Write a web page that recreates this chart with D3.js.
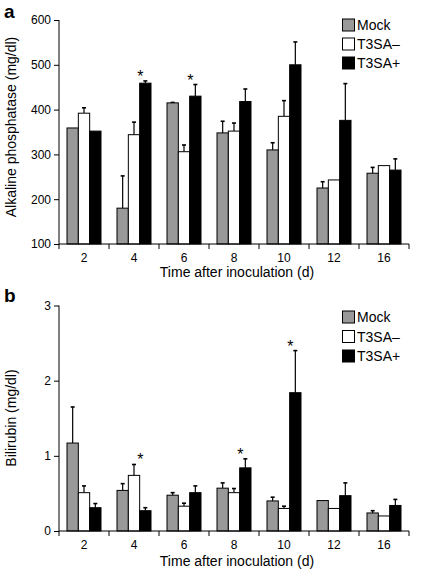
<!DOCTYPE html>
<html><head><meta charset="utf-8">
<script src="https://cdn.jsdelivr.net/npm/d3@7"></script>
<style>body{margin:0;background:#fff}svg{display:block}</style>
</head><body><svg id="c" width="423" height="572"></svg>
<script>
// ---- data ----
const days = ["2","4","6","8","10","12","16"];
const seriesNames = ["Mock","T3SA\u2013","T3SA+"];
const seriesColors = ["#999999","#ffffff","#000000"];

// Panel a: Alkaline phosphatase (mg/dl)
const alpMock     = [359,180,415,348,310,225,258];
const alpMockErr  = [null,252,416,374,326,239,271];
const alpNeg      = [392,344,306,352,385,243,275];
const alpNegErr   = [404,372,321,370,420,null,null];
const alpPos      = [352,459,430,418,500,376,265];
const alpPosErr   = [null,464,456,446,551,458,290];
const alpSig      = ["4","6"];
const alpTicks    = [100,200,300,400,500,600];

// Panel b: Bilirubin (mg/dl)
const bilMock     = [1.17,0.54,0.476,0.57,0.40,0.405,0.24];
const bilMockErr  = [1.65,0.63,0.51,0.64,0.45,null,0.27];
const bilNeg      = [0.51,0.74,0.33,0.51,0.30,0.30,0.20];
const bilNegErr   = [0.60,0.885,0.37,0.565,0.33,null,null];
const bilPos      = [0.31,0.27,0.51,0.84,1.84,0.47,0.34];
const bilPosErr   = [0.365,0.31,0.60,0.96,2.40,0.64,0.42];
const bilSig      = ["4","8","10"];
const bilTicks    = [0,1,2,3];

const FONT = "'Liberation Sans', Arial, Helvetica, sans-serif";
const svg = d3.select("#c");

function panel(o){
  const g = svg.append("g");
  const x0 = d3.scaleBand().domain(days).range([59,409]).paddingInner(0.32).paddingOuter(0.16);
  const x1 = d3.scaleBand().domain(seriesNames).range([0,x0.bandwidth()]);
  const y = d3.scaleLinear().domain(o.domain).range([o.bottom,o.top]);
  const vals = [o.mock,o.neg,o.pos], errs=[o.mockErr,o.negErr,o.posErr];

  const rows = [];
  days.forEach((d,i)=>seriesNames.forEach((s,j)=>rows.push({d,s,j,v:vals[j][i],e:errs[j][i]})));

  // error bars (behind bars)
  const eb = g.append("g").attr("stroke","#000").attr("stroke-width",1.2).attr("fill","none");
  rows.filter(r=>r.e!=null).forEach(r=>{
    const cx = x0(r.d)+x1(r.s)+x1.bandwidth()/2;
    eb.append("line").attr("x1",cx).attr("x2",cx).attr("y1",y(r.v)).attr("y2",y(r.e));
    eb.append("line").attr("x1",cx-2).attr("x2",cx+2).attr("y1",y(r.e)).attr("y2",y(r.e)).attr("stroke-width",1.6);
  });

  g.append("g").selectAll("rect").data(rows).join("rect")
    .attr("x",r=>x0(r.d)+x1(r.s))
    .attr("width",x1.bandwidth())
    .attr("y",r=>y(r.v))
    .attr("height",r=>y(o.domain[0])-y(r.v))
    .attr("fill",r=>seriesColors[r.j])
    .attr("stroke","#000").attr("stroke-width",1);

  // significance asterisks
  o.sig.forEach(d=>{
    const i = days.indexOf(d);
    let top = d3.max([0,1,2],j=>Math.max(vals[j][i], errs[j][i]==null?vals[j][i]:errs[j][i]));
    const cx = x0(d)+x1(seriesNames[2])+x1.bandwidth()/2-5;
    g.append("text").attr("x",cx).attr("y",y(top)+1).attr("text-anchor","middle")
      .attr("font-family",FONT).attr("font-size",16).text("*");
  });

  // y axis
  const ya = g.append("g").attr("transform","translate(59,0)")
    .call(d3.axisLeft(y).tickValues(o.ticks).tickSize(5).tickPadding(3).tickFormat(d3.format("d")));
  ya.select(".domain").attr("d",`M0,${o.top}V${o.bottom}`);
  ya.selectAll("text").attr("font-family",FONT).attr("font-size",12).attr("fill","#000");

  // x axis: labels centered on groups, ticks at group boundaries
  const xa = g.append("g").attr("transform",`translate(0,${o.bottom})`)
    .call(d3.axisBottom(x0).tickSize(0).tickPadding(9));
  xa.select(".domain").attr("d","M59,0H409");
  xa.selectAll("text").attr("font-family",FONT).attr("font-size",12).attr("fill","#000");
  const step = x0.step();
  d3.range(days.length+1).forEach(k=>{
    xa.append("line").attr("x1",59+k*step).attr("x2",59+k*step).attr("y1",0).attr("y2",5).attr("stroke","#000");
  });

  g.append("text").attr("x",237).attr("y",o.xlabelY).attr("text-anchor","middle")
    .attr("font-family",FONT).attr("font-size",14).text("Time after inoculation (d)");
  g.append("text").attr("transform",`translate(16,${o.ylabelC}) rotate(-90)`).attr("text-anchor","middle")
    .attr("font-family",FONT).attr("font-size",14).text(o.ylabel);
  g.append("text").attr("x",4).attr("y",o.letterY).attr("font-family",FONT).attr("font-weight","bold")
    .attr("font-size",19).text(o.letter);

  // legend
  const lg = g.append("g");
  seriesNames.forEach((s,j)=>{
    const cy = o.legY + j*o.legStep;
    lg.append("rect").attr("x",342.5).attr("y",cy-6).attr("width",12).attr("height",12)
      .attr("fill",seriesColors[j]).attr("stroke","#000").attr("stroke-width",1);
    lg.append("text").attr("x",357).attr("y",cy+5).attr("font-family",FONT).attr("font-size",14).text(s);
  });
}

panel({domain:[100,600],top:20,bottom:244,ticks:alpTicks,mock:alpMock,mockErr:alpMockErr,neg:alpNeg,negErr:alpNegErr,
  pos:alpPos,posErr:alpPosErr,sig:alpSig,xlabelY:277,ylabel:"Alkaline phosphatase (mg/dl)",ylabelC:127,
  letter:"a",letterY:17.5,legY:25,legStep:19});
panel({domain:[0,3],top:305.5,bottom:531,ticks:bilTicks,mock:bilMock,mockErr:bilMockErr,neg:bilNeg,negErr:bilNegErr,
  pos:bilPos,posErr:bilPosErr,sig:bilSig,xlabelY:566,ylabel:"Bilirubin (mg/dl)",ylabelC:418,
  letter:"b",letterY:302,legY:317,legStep:19.5});
</script></body></html>
